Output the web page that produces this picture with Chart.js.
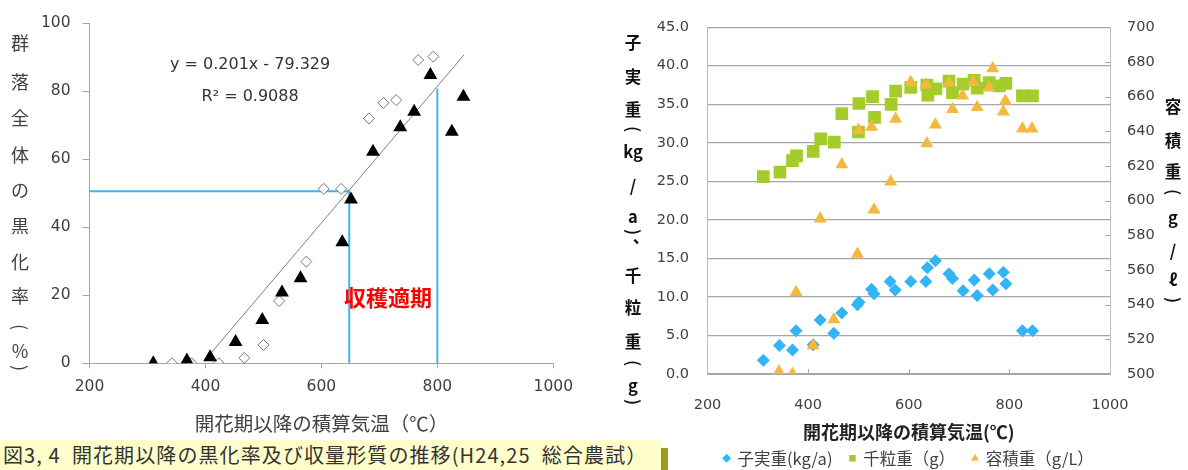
<!DOCTYPE html>
<html>
<head>
<meta charset="utf-8">
<script src="https://cdn.jsdelivr.net/npm/chart.js@4.4.1/dist/chart.umd.min.js"></script>
<style>
  html, body { margin: 0; padding: 0; background: #fff; }
  body { width: 1188px; height: 470px; position: relative; overflow: hidden;
         font-family: "Noto Sans CJK JP", "Noto Sans", sans-serif; }
  #leftBox  { position: absolute; left: 0; top: 0; width: 600px; height: 440px; }
  #rightBox { position: absolute; left: 600px; top: 0; width: 588px; height: 470px; }
  #caption { position: absolute; left: 0; top: 440px; width: 661px; height: 30px;
             background: #ffffcc; color: #333; font-size: 20px; line-height: 30px;
             letter-spacing: 1.1px; white-space: pre; padding-left: 3px; box-sizing: border-box; z-index: 2; }
  #captionEdge { position: absolute; left: 661px; top: 448px; width: 7px; height: 22px; background: #9b9b1e; z-index: 2; }
</style>
</head>
<body>
<div id="leftBox"><canvas id="leftChart"></canvas></div>
<div id="rightBox"><canvas id="rightChart"></canvas></div>
<div id="caption">図3, 4  開花期以降の黒化率及び収量形質の推移(H24,25  総合農試）</div>
<div id="captionEdge"></div>
<script>
// ---------- blackening ratio (left panel) ----------
const triX = [310, 368, 408, 452, 498, 532, 564, 636, 651, 689, 736, 760, 788, 825, 845];
const triY = [0, 0.8, 1.8, 6.3, 12.7, 20.8, 25.0, 35.6, 48.2, 62.2, 69.4, 74.0, 84.8, 68.1, 78.4];
const diaX = [342, 376, 423, 467, 500, 527, 574, 604, 634, 682, 707, 729, 767, 793];
const diaY = [0, 0, 0, 1.6, 5.4, 18.3, 29.9, 51.3, 51.3, 72.0, 76.6, 77.4, 89.2, 90.2];
// linear fit y = 0.201x - 79.329 (R² = 0.9088)
const SLOPE = 0.201;
const INTERCEPT = -79.329;
const fitRange = [410, 846];
// harvest window markers
const harvestStart = { x: 648, y: 50.6 };
const harvestEnd = { x: 800, y: 80.8 };
const leftXTicks = { min: 200, max: 1000, step: 200 };
const leftYTicks = { min: 0, max: 100, step: 20 };

// ---------- yield traits (right panel) ----------
const yieldX = [311, 343, 369, 376, 410, 424, 451, 467, 498, 501, 526, 531, 563, 573, 604, 634, 637, 653, 680, 687, 708, 730, 736, 760, 767, 788, 793, 826, 846];
const yieldY = [1.8, 3.7, 3.1, 5.6, 3.8, 7.0, 5.3, 7.9, 9.0, 9.3, 11.0, 10.4, 12.0, 10.9, 12.0, 12.0, 13.8, 14.7, 13.0, 12.4, 10.8, 12.2, 10.2, 13.0, 10.9, 13.2, 11.7, 5.6, 5.6];
const kernelX = [311, 344, 369, 377, 410, 425, 452, 467, 501, 500, 528, 532, 565, 574, 604, 636, 638, 654, 680, 687, 708, 730, 736, 760, 780, 793, 826, 846];
const kernelY = [25.6, 26.2, 27.7, 28.3, 28.9, 30.5, 30.1, 33.8, 35.1, 31.4, 36.0, 33.3, 35.0, 36.7, 37.2, 37.5, 36.2, 37.0, 38.0, 36.5, 37.6, 38.1, 37.1, 37.8, 37.4, 37.7, 36.1, 36.1];
const bulkX = [342, 369, 376, 410, 424, 451, 467, 498, 500, 526, 531, 564, 574, 604, 636, 634, 653, 680, 687, 707, 728, 736, 760, 767, 788, 792, 826, 845];
const bulkY = [501.3, 500, 547.2, 516.4, 589.6, 531.5, 620.8, 569.2, 640.6, 642.5, 594.7, 610.8, 647, 668.3, 632.9, 666.8, 643.8, 668, 652.7, 660.4, 668.3, 653.8, 665.1, 676.2, 651.3, 657.5, 641.5, 641.5];
const seriesNames = ['子実重(kg/a)', '千粒重（g）', '容積重（g/L）'];
const rightXTicks = { min: 200, max: 1000, step: 200 };
const rightYTicks = { min: 0, max: 45, step: 5 };
const rightY1Ticks = { min: 500, max: 700, step: 20 };

const pts = (xs, ys) => xs.map((x, i) => ({ x, y: ys[i] }));
const plain = v => String(v);

Chart.defaults.font.family = '"Noto Sans CJK JP", "Noto Sans", sans-serif';
Chart.defaults.color = '#404040';
Chart.defaults.animation = false;
Chart.defaults.plugins.tooltip.enabled = false;

const NUM_FONT = 'DejaVu Sans';
const AXIS_GRAY = '#a6a6a6';

// Stacked vertical axis captions; brackets are turned sideways.
function verticalCaption(id, x, font, color, glyphs) {
  return {
    id,
    afterDraw(chart) {
      const ctx = chart.ctx;
      ctx.save();
      ctx.font = font;
      ctx.fillStyle = color;
      ctx.textAlign = 'center';
      ctx.textBaseline = 'middle';
      glyphs.forEach(([t, y, dx]) => {
        const gx = x + (dx || 0);
        if (t === '(' || t === ')') {
          ctx.save();
          ctx.translate(gx, y);
          ctx.rotate(Math.PI / 2);
          ctx.fillText(t, 0, 0);
          ctx.restore();
        } else {
          ctx.fillText(t, gx, y);
        }
      });
      ctx.restore();
    }
  };
}

// Text annotations placed in data space of the left panel.
const leftNotes = {
  id: 'leftNotes',
  afterDraw(chart) {
    const { ctx, scales: { x, y } } = chart;
    ctx.save();
    ctx.textAlign = 'center';
    ctx.textBaseline = 'middle';
    ctx.fillStyle = '#333';
    ctx.font = '16px "DejaVu Sans"';
    const sign = INTERCEPT < 0 ? '-' : '+';
    ctx.fillText(`y = ${SLOPE}x ${sign} ${Math.abs(INTERCEPT)}`, x.getPixelForValue(477), y.getPixelForValue(87.7));
    ctx.fillText('R² = 0.9088', x.getPixelForValue(477), y.getPixelForValue(78.4));
    ctx.fillStyle = '#ff0000';
    ctx.font = 'bold 22px "Noto Sans CJK JP"';
    ctx.fillText('収穫適期', x.getPixelForValue(715), y.getPixelForValue(19.2));
    ctx.restore();
  }
};

const GUIDE_BLUE = '#41b4ee';
new Chart(document.getElementById('leftChart'), {
  type: 'scatter',
  data: {
    datasets: [
      { label: '黒化率A', data: pts(triX, triY), pointStyle: 'triangle', pointRadius: 8,
        backgroundColor: '#000', borderColor: '#000', borderWidth: 0 },
      { label: '黒化率B', data: pts(diaX, diaY), pointStyle: 'rectRot', pointRadius: 5.5,
        backgroundColor: '#fff', borderColor: '#777', borderWidth: 1 },
      { label: '回帰直線', data: fitRange.map(v => ({ x: v, y: SLOPE * v + INTERCEPT })),
        showLine: true, pointRadius: 0, borderColor: '#7f7f7f', borderWidth: 1 },
      { label: '収穫始め', data: [{ x: leftXTicks.min, y: harvestStart.y }, harvestStart, { x: harvestStart.x, y: 0 }],
        showLine: true, pointRadius: 0, borderColor: GUIDE_BLUE, borderWidth: 2 },
      { label: '収穫終わり', data: [{ x: harvestEnd.x, y: 0 }, harvestEnd],
        showLine: true, pointRadius: 0, borderColor: GUIDE_BLUE, borderWidth: 2 }
    ]
  },
  options: {
    responsive: true,
    maintainAspectRatio: false,
    layout: { padding: { top: 23.3, right: 46.7, bottom: 0, left: 0 } },
    plugins: { legend: { display: false } },
    scales: {
      x: {
        type: 'linear', min: leftXTicks.min, max: leftXTicks.max,
        ticks: { stepSize: leftXTicks.step, padding: 9, color: '#404040', callback: plain,
                 font: { family: NUM_FONT, size: 15.5 } },
        grid: { drawOnChartArea: false, drawTicks: true, tickLength: 5, color: AXIS_GRAY },
        border: { display: true, color: AXIS_GRAY },
        title: { display: true, text: '開花期以降の積算気温（℃）', color: '#404040',
                 font: { size: 19.5 }, padding: { top: 0, bottom: 4.5 } },
        afterFit(s) { s.height = 76.7; }
      },
      y: {
        type: 'linear', min: leftYTicks.min, max: leftYTicks.max,
        ticks: { stepSize: leftYTicks.step, padding: 12, color: '#404040', callback: plain,
                 font: { family: NUM_FONT, size: 15.5 } },
        grid: { drawOnChartArea: false, drawTicks: true, tickLength: 7, color: AXIS_GRAY },
        border: { display: true, color: AXIS_GRAY },
        afterFit(s) { s.width = 89.5; }
      }
    }
  },
  plugins: [
    leftNotes,
    verticalCaption('leftTitle', 20, '18px "Noto Sans CJK JP"', '#404040', [
      ['群', 43], ['落', 82], ['全', 118], ['体', 155], ['の', 190], ['黒', 226], ['化', 262],
      ['率', 296], ['(', 327], ['%', 351], [')', 368]
    ])
  ]
});

// Inward tick marks on the bottom and right edges of the right panel.
const innerTicks = {
  id: 'innerTicks',
  beforeDatasetsDraw(chart) {
    const { ctx, chartArea: a, scales: { x, y1 } } = chart;
    ctx.save();
    ctx.strokeStyle = AXIS_GRAY;
    ctx.lineWidth = 1;
    ctx.beginPath();
    x.ticks.forEach(t => {
      const px = Math.round(x.getPixelForValue(t.value)) + 0.5;
      if (px > a.left + 2 && px < a.right - 2) { ctx.moveTo(px, a.bottom); ctx.lineTo(px, a.bottom - 5); }
    });
    y1.ticks.forEach(t => {
      const py = Math.round(y1.getPixelForValue(t.value)) + 0.5;
      ctx.moveTo(a.right, py); ctx.lineTo(a.right - 5, py);
    });
    ctx.stroke();
    ctx.restore();
  }
};

const BLUE = '#33b5f5', GREEN = '#a4cd2b', ORANGE = '#f4b83e';
new Chart(document.getElementById('rightChart'), {
  type: 'scatter',
  data: {
    datasets: [
      { label: seriesNames[0], data: pts(yieldX, yieldY), yAxisID: 'y', pointStyle: 'rectRot', pointRadius: 6.5,
        backgroundColor: BLUE, borderColor: BLUE, borderWidth: 0 },
      { label: seriesNames[1], data: pts(kernelX, kernelY), yAxisID: 'y', pointStyle: 'rect', pointRadius: 9,
        backgroundColor: GREEN, borderColor: GREEN, borderWidth: 0 },
      { label: seriesNames[2], data: pts(bulkX, bulkY), yAxisID: 'y1', pointStyle: 'triangle', pointRadius: 7.5,
        backgroundColor: ORANGE, borderColor: ORANGE, borderWidth: 0, order: -1 }
    ]
  },
  options: {
    responsive: true,
    maintainAspectRatio: false,
    layout: { padding: { top: 20.7, right: 0, bottom: 0, left: 30 } },
    plugins: {
      legend: {
        display: true, position: 'bottom', maxHeight: 37.5,
        labels: { usePointStyle: true, boxWidth: 5, boxHeight: 6.5, padding: 17.5, color: '#404040',
                  font: { size: 16.5 }, sort: (a, b) => a.datasetIndex - b.datasetIndex }
      }
    },
    scales: {
      x: {
        type: 'linear', min: rightXTicks.min, max: rightXTicks.max,
        ticks: { stepSize: rightXTicks.step, padding: 15, color: '#404040', callback: plain,
                 font: { family: NUM_FONT, size: 14.5 } },
        grid: { display: false },
        border: { display: true, color: AXIS_GRAY },
        title: { display: true, text: '開花期以降の積算気温(℃)', color: '#222',
                 font: { size: 18, weight: 'bold' }, padding: { top: 0, bottom: -10.3 } },
        afterFit(s) { s.height = 58.5; }
      },
      y: {
        type: 'linear', position: 'left', min: rightYTicks.min, max: rightYTicks.max,
        ticks: { stepSize: rightYTicks.step, padding: 18.5, color: '#404040',
                 font: { family: NUM_FONT, size: 14.5 }, callback: v => v.toFixed(1) },
        grid: { drawOnChartArea: true, drawTicks: false, color: AXIS_GRAY, lineWidth: 1.2 },
        border: { display: true, color: '#bdbdbd' },
        afterFit(s) { s.width = 77.5; }
      },
      y1: {
        type: 'linear', position: 'right', min: rightY1Ticks.min, max: rightY1Ticks.max,
        ticks: { stepSize: rightY1Ticks.step, padding: 17, color: '#404040', callback: plain,
                 font: { family: NUM_FONT, size: 14.5 } },
        grid: { drawOnChartArea: false, drawTicks: false },
        border: { display: true, color: '#bdbdbd' },
        afterFit(s) { s.width = 78; }
      }
    }
  },
  plugins: [
    innerTicks,
    verticalCaption('rightLeftTitle', 33, 'bold 16.5px "Noto Sans CJK JP"', '#111', [
      ['子', 43], ['実', 77], ['重', 110], ['(', 129], ['kg', 152], ['/', 186], ['a', 217],
      [')', 232], ['、', 237, 8], ['千', 276], ['粒', 308], ['重', 342], ['(', 363], ['g', 386], [')', 402]
    ]),
    verticalCaption('rightRightTitle', 573, 'bold 16.5px "Noto Sans CJK JP"', '#111', [
      ['容', 107], ['積', 141], ['重', 172], ['(', 192], ['g', 218], ['/', 251], ['ℓ', 280], [')', 300]
    ])
  ]
});
</script>
</body>
</html>
